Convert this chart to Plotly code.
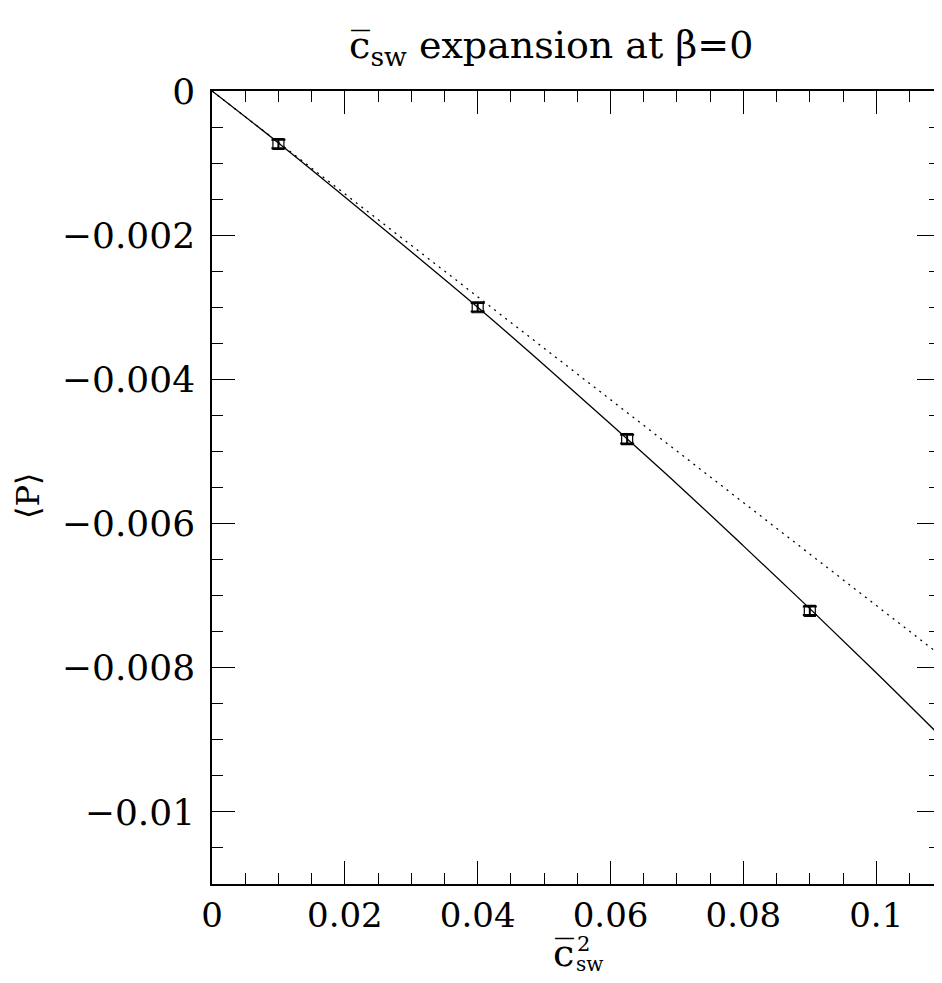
import plotly.graph_objects as go

# Data points: csw^2 vs <P>
c2 = [0.01, 0.04, 0.0625, 0.09]
P = [-0.000735, -0.00300, -0.00483, -0.00721]
P_err = [0.00006, 0.00006, 0.00006, 0.00006]

# Solid fit curve
fit_x = [0, 0.01, 0.02, 0.03, 0.04, 0.05, 0.06, 0.07, 0.08, 0.09, 0.10, 0.11]
fit_y = [0, -0.00072, -0.00147, -0.00223, -0.00300, -0.00380, -0.00462,
         -0.00545, -0.00631, -0.00718, -0.00807, -0.00898]

# Dotted linear term
lin_x = [0, 0.11]
lin_y = [0, -0.00785]

x_ticks = [0, 0.02, 0.04, 0.06, 0.08, 0.1]
x_ticklabels = ["0", "0.02", "0.04", "0.06", "0.08", "0.1"]
y_ticks = [0, -0.002, -0.004, -0.006, -0.008, -0.01]
y_ticklabels = ["0", "\u22120.002", "\u22120.004", "\u22120.006", "\u22120.008", "\u22120.01"]

FONT = "DejaVu Serif"

fig = go.Figure()
fig.add_trace(go.Scatter(x=fit_x, y=fit_y, mode="lines", line=dict(color="black", width=1.3, shape="spline"),
                         showlegend=False))
fig.add_trace(go.Scatter(x=lin_x, y=lin_y, mode="lines", line=dict(color="black", width=1.3, dash="2px,5px"),
                         showlegend=False))
fig.add_trace(go.Scatter(x=c2, y=P, mode="markers",
                         marker=dict(symbol="square-open", size=11, color="black", line=dict(width=1.2)),
                         error_y=dict(type="data", array=P_err, color="black", thickness=2, width=7),
                         showlegend=False))

fig.update_layout(
    width=934, height=967,
    margin=dict(l=204, r=0, t=83, b=91),
    paper_bgcolor="white", plot_bgcolor="white",
    font=dict(family=FONT, color="black"),
    title=dict(text="c\u0305<sub>sw</sub> expansion at \u03b2=0", x=0.466, xref="paper", xanchor="center",
               y=0.962, yref="container", yanchor="middle", font=dict(size=38, family=FONT)),
)

fig.update_xaxes(range=[0, 0.1096], showgrid=False, zeroline=False,
                 showline=True, linecolor="black", linewidth=1.5, mirror="allticks",
                 ticks="inside", ticklen=23, tickwidth=1.2, tickcolor="black",
                 tickvals=x_ticks, ticktext=x_ticklabels, tickfont=dict(size=34, family=FONT),
                 minor=dict(dtick=0.005, tick0=0, ticks="inside", ticklen=11, tickwidth=1.2, tickcolor="black"))
fig.update_yaxes(range=[-0.011, 0], showgrid=False, zeroline=False,
                 showline=True, linecolor="black", linewidth=1.5, mirror="allticks",
                 ticks="inside", ticklen=23, tickwidth=1.2, tickcolor="black",
                 tickvals=y_ticks, ticktext=y_ticklabels, tickfont=dict(size=36, family=FONT),
                 ticklabelstandoff=8,
                 minor=dict(dtick=0.0005, tick0=0, ticks="inside", ticklen=11, tickwidth=1.2, tickcolor="black"))

# x-axis title: c-bar with superscript 2 and subscript sw stacked
fig.add_annotation(text="c\u0305", xref="paper", yref="paper", x=0.483, y=-0.087,
                   showarrow=False, font=dict(size=38, family=FONT), xanchor="center", yanchor="middle")
fig.add_annotation(text="2", xref="paper", yref="paper", x=0.499, y=-0.076,
                   showarrow=False, font=dict(size=21, family=FONT), xanchor="left", yanchor="middle")
fig.add_annotation(text="sw", xref="paper", yref="paper", x=0.497, y=-0.101,
                   showarrow=False, font=dict(size=20, family=FONT), xanchor="left", yanchor="middle")
# y-axis title
fig.add_annotation(text="\u27e8P\u27e9", xref="paper", yref="paper", x=-0.252, y=0.49,
                   showarrow=False, font=dict(size=32, family=FONT), textangle=-90,
                   xanchor="center", yanchor="middle")

fig.write_html("out.html")
